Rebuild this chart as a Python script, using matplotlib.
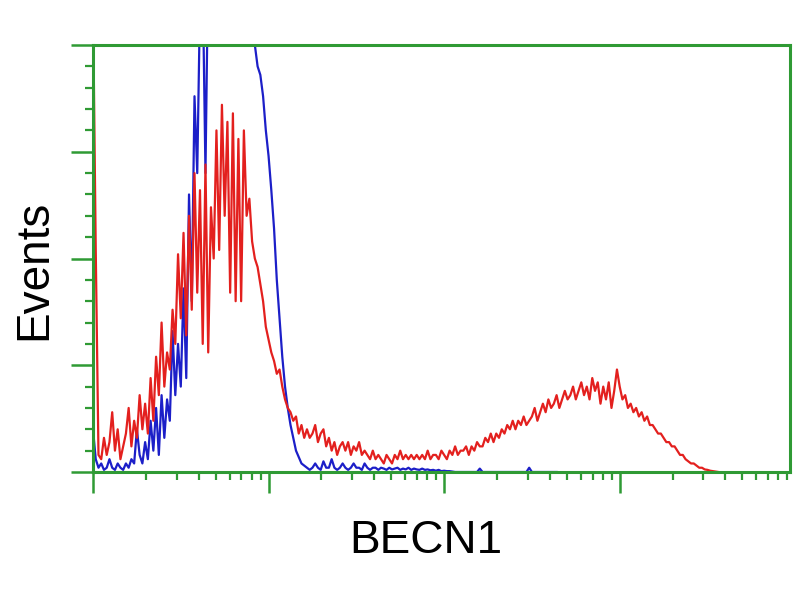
#flow cytometry histogram - BECN1 staining (red) vs isotype control (blue)
import numpy as np
import matplotlib.pyplot as plt

# channel counts, 256 channels over 4 log decades (values in % of max scale)
red_counts = [
    110, 52, 4, 3, 8, 4, 7, 14, 5, 10,
    3, 6, 9, 15, 6, 12, 8, 18, 10, 16,
    9, 22, 12, 27, 18, 35, 20, 28, 24, 38,
    30, 51, 36, 56, 32, 60, 38, 70, 42, 66,
    30, 72, 28, 62, 50, 80, 52, 86, 60, 82,
    42, 84, 40, 78, 40, 80, 60, 64, 54, 50,
    48, 44, 40, 34, 31, 28, 26, 23, 24, 20,
    17, 15, 14, 12, 13, 9, 11, 8, 10, 8,
    9, 11, 7, 9, 10, 6, 8, 5, 7, 4,
    6, 7, 5, 7, 4, 6, 5, 7, 4, 5,
    4, 3, 5, 3, 4, 3, 2, 4, 3, 2,
    4, 3, 5, 3, 4, 3, 4, 3, 4, 3,
    4, 3, 5, 3, 4, 4, 3, 5, 4, 3,
    5, 4, 6, 4, 5, 5, 6, 4, 6, 5,
    7, 6, 6, 8, 7, 9, 7, 9, 8, 10,
    9, 11, 10, 12, 10, 12, 11, 13, 11, 12,
    13, 15, 12, 14, 16, 14, 17, 15, 16, 18,
    15, 17, 19, 17, 18, 20, 17, 19, 21, 18,
    20, 17, 22, 19, 21, 16, 20, 17, 21, 15,
    19, 24, 20, 17, 18, 15, 16, 14, 15, 13,
    14, 12, 13, 11, 11, 10, 9, 9, 8, 7,
    7, 6, 6, 5, 4, 4, 3, 2.5, 2, 2,
    1.5, 1, 1, 0.6, 0.5, 0.3, 0.2, 0.1, 0,
]

blue_counts = [
    10, 3, 1, 2, 0.5, 1, 3, 1, 0.5, 2,
    1, 0.5, 2, 1, 3, 2, 10, 4, 2, 7,
    3, 12, 5, 15, 4, 18, 8, 17, 12, 33,
    18, 30, 20, 43, 22, 65, 40, 88, 70, 110,
    115, 70, 120, 110, 130, 130, 140, 150, 150, 160,
    150, 155, 150, 145, 140, 130, 120, 110, 105, 100,
    95, 93, 88, 80, 74, 66, 57, 45, 36, 27,
    20, 15, 11, 8, 5, 3.5, 2, 1.5, 1, 0.5,
    1, 2, 1, 0.5, 2.5, 1, 1, 3, 1, 0.5,
    1, 2, 1, 0.5, 1, 2, 1, 1, 0.5, 2,
    1, 0.5, 1, 1, 0.5, 1, 0.8, 0.5, 1, 0.6,
    0.8, 1, 0.5, 0.8, 0.6, 1, 0.5, 0.8, 0.6, 0.5,
    0.8, 0.5, 0.6, 0.4, 0.5, 0.3, 0.5, 0.2, 0.3, 0.2,
    0.2, 0.1, 0, 0, 0, 0, 0, 0, 0, 0,
    0, 0.8, 0, 0, 0, 0, 0, 0, 0, 0,
    0, 0, 0, 0, 0, 0, 0, 0, 0, 1,
    0, 0, 0, 0, 0, 0, 0, 0, 0, 0,
]

# channel -> fluorescence intensity (64 channels per decade)
red_x = 10 ** (np.arange(len(red_counts)) / 64)
blue_x = 10 ** (np.arange(len(blue_counts)) / 64)

green = '#2f9a34'

plt.rcParams['font.family'] = ['Liberation Sans', 'DejaVu Sans']

fig = plt.figure(figsize=(8, 6), dpi=100)
ax = fig.add_axes([0.11625, 0.21333, 0.87125, 0.71167])

ax.plot(blue_x, blue_counts, color='#1c1fc8', linewidth=1.6)
ax.plot(red_x, red_counts, color='#e3201e', linewidth=1.6)

ax.set_xscale('log')
ax.set_xlim(1, 10 ** 3.97)
ax.set_ylim(0, 100)

ax.set_yticks([0, 25, 50, 75, 100])
ax.set_yticks(np.arange(0, 101, 5), minor=True)
ax.set_xticklabels([], minor=True)
ax.set_yticklabels([])
ax.set_xticklabels([])

for side in ['top', 'bottom', 'left', 'right']:
    ax.spines[side].set_color(green)
    ax.spines[side].set_linewidth(2.2)

ax.tick_params(axis='x', which='major', length=15, width=1.8, color=green, direction='out')
ax.tick_params(axis='x', which='minor', length=6, width=1.6, color=green, direction='out')
ax.tick_params(axis='y', which='major', length=16, width=1.8, color=green, direction='out')
ax.tick_params(axis='y', which='minor', length=6, width=1.6, color=green, direction='out')
ax.tick_params(labelbottom=False, labelleft=False, which='both')

# axis titles
fig.text(426 / 800, 1 - 553 / 600, 'BECN1', fontsize=33, ha='center', va='baseline')
fig.text(34 / 800, 1 - 270 / 600, 'Events', fontsize=33, rotation=90, ha='center', va='center')

fig.savefig('out.png', dpi=100)
